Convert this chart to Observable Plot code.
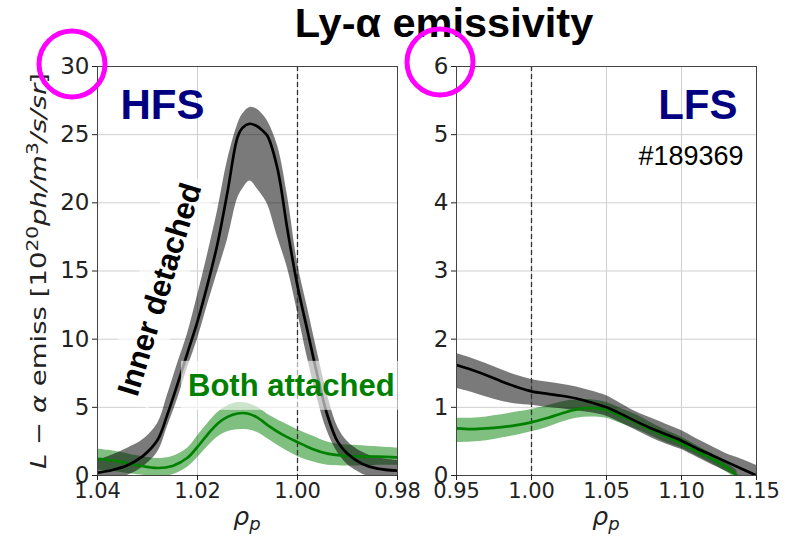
<!DOCTYPE html>
<html>
<head>
<meta charset="utf-8">
<script src="https://cdn.jsdelivr.net/npm/d3@7"></script>
<script src="https://cdn.jsdelivr.net/npm/@observablehq/plot@0.6"></script>
<style>
  html, body { margin: 0; padding: 0; background: white; }
  #wrap { position: relative; width: 792px; height: 536px; overflow: hidden; background: white; }
  #wrap > svg { position: absolute; top: 0; }
</style>
</head>
<body>
<div id="wrap"></div>
<script>
// ---------------- data ----------------
const titleText = "Ly-α emissivity";
const hfsLabel = "HFS";
const lfsLabel = "LFS";
const shotLabel = "#189369";
const detachedLabel = "Inner detached";
const attachedLabel = "Both attached";

// HFS (left panel), rho_p from 1.04 down to 0.98
const hfsTicksX = [1.04, 1.02, 1.00, 0.98];
const hfsTicksY = [0, 5, 10, 15, 20, 25, 30];
const hfsDetRho  = [1.040,1.037,1.034,1.031,1.028,1.026,1.024,1.022,1.020,1.018,1.016,1.014,1.012,1.011,1.0095,1.008,1.007,1.006,1.004,1.002,1.000,0.998,0.996,0.994,0.992,0.990,0.987,0.984,0.980];
const hfsDetMean = [0.2,0.4,0.75,1.4,2.6,4.5,6.7,9.0,11.3,14.0,17.0,20.8,24.8,25.5,25.8,25.6,25.3,24.9,22.5,18.0,13.9,10.6,7.3,4.4,2.5,1.6,0.85,0.5,0.35];
const hfsDetLo   = [-0.6,-0.3,0.0,0.6,1.7,3.6,5.6,7.9,10.0,12.5,14.9,17.3,20.3,21.0,21.6,21.0,20.5,19.9,17.5,15.2,12.0,8.6,5.6,3.2,1.7,0.8,0.1,-0.2,-0.3];
const hfsDetHi   = [1.1,1.5,2.0,2.6,3.8,5.9,8.2,10.4,13.2,16.2,19.4,23.1,25.7,26.5,27.0,26.85,26.5,26.0,24.2,20.5,15.6,12.3,9.0,5.9,3.6,2.5,1.7,1.3,1.1];

const hfsAttRho  = [1.040,1.036,1.032,1.028,1.025,1.022,1.020,1.018,1.016,1.014,1.012,1.010,1.008,1.006,1.003,1.000,0.997,0.994,0.991,0.988,0.984,0.980];
const hfsAttMean = [1.22,1.05,0.75,0.55,0.7,1.3,2.1,3.0,3.8,4.3,4.55,4.55,4.25,3.7,3.0,2.45,1.95,1.6,1.45,1.4,1.38,1.33];
const hfsAttLo   = [0.4,0.25,0.05,-0.05,0.05,0.6,1.3,2.1,2.8,3.2,3.35,3.35,3.15,2.7,2.0,1.4,1.0,0.75,0.7,0.7,0.75,0.75];
const hfsAttHi   = [1.95,1.75,1.45,1.25,1.4,2.0,2.9,3.8,4.6,5.1,5.35,5.3,5.0,4.5,3.9,3.35,2.9,2.45,2.25,2.2,2.1,2.0];

// LFS (right panel), rho_p from 0.95 to 1.15
const lfsTicksX = [0.95, 1.00, 1.05, 1.10, 1.15];
const lfsTicksY = [0, 1, 2, 3, 4, 5, 6];
const lfsDetRho  = [0.95,0.96,0.97,0.98,0.99,1.00,1.01,1.02,1.03,1.04,1.05,1.06,1.07,1.08,1.09,1.10,1.11,1.12,1.13,1.14,1.15];
const lfsDetMean = [1.62,1.55,1.47,1.38,1.30,1.235,1.20,1.17,1.13,1.07,1.00,0.90,0.79,0.69,0.60,0.51,0.40,0.30,0.20,0.10,0.0];
const lfsDetLo   = [1.28,1.22,1.15,1.09,1.05,1.03,1.00,0.98,0.95,0.92,0.87,0.77,0.66,0.55,0.46,0.38,0.27,0.16,0.06,-0.04,-0.1];
const lfsDetHi   = [1.79,1.72,1.64,1.55,1.47,1.41,1.37,1.34,1.30,1.24,1.17,1.05,0.93,0.84,0.75,0.66,0.54,0.43,0.32,0.24,0.15];

const lfsAttRho  = [0.95,0.96,0.97,0.98,0.99,1.00,1.01,1.02,1.03,1.04,1.05,1.06,1.07,1.08,1.09,1.10,1.11,1.12,1.13,1.137];
const lfsAttMean = [0.69,0.68,0.69,0.71,0.74,0.78,0.84,0.91,0.97,0.99,0.96,0.87,0.78,0.67,0.57,0.47,0.36,0.25,0.12,0.0];
const lfsAttLo   = [0.48,0.49,0.51,0.55,0.59,0.64,0.70,0.78,0.84,0.86,0.84,0.76,0.68,0.58,0.48,0.40,0.29,0.18,0.05,-0.06];
const lfsAttHi   = [0.84,0.84,0.86,0.89,0.93,0.97,1.02,1.08,1.11,1.11,1.07,0.98,0.89,0.77,0.66,0.56,0.44,0.32,0.19,0.07];

const separatrix = [1.00];

// ---------------- helpers ----------------
const table = (rho, mean, lo, hi) => rho.map((r, i) => ({rho: r, mean: mean[i], lo: lo[i], hi: hi[i]}));
const hfsDet = table(hfsDetRho, hfsDetMean, hfsDetLo, hfsDetHi);
const hfsAtt = table(hfsAttRho, hfsAttMean, hfsAttLo, hfsAttHi);
const lfsDet = table(lfsDetRho, lfsDetMean, lfsDetLo, lfsDetHi);
const lfsAtt = table(lfsAttRho, lfsAttMean, lfsAttLo, lfsAttHi);

const GREEN = "#008000";
const ARIAL = "'Liberation Sans', Arial, sans-serif";
const CURVE = "catmull-rom";
const style = {fontFamily: "'DejaVu Sans', sans-serif", fontSize: "21px", color: "#222", background: "transparent", overflow: "visible"};

function dataMarks(det, att, ticksX, ticksY, xfmt) {
  return [
    Plot.gridX(ticksX, {stroke: "#cfcfcf", strokeOpacity: 1, strokeWidth: 1}),
    Plot.gridY(ticksY, {stroke: "#cfcfcf", strokeOpacity: 1, strokeWidth: 1}),
    Plot.areaY(att, {x: "rho", y1: "lo", y2: "hi", fill: GREEN, fillOpacity: 0.5, curve: CURVE, clip: true}),
    Plot.areaY(det, {x: "rho", y1: "lo", y2: "hi", fill: "black", fillOpacity: 0.52, curve: CURVE, clip: true}),
    Plot.ruleX(separatrix, {stroke: "#333", strokeWidth: 1.3, strokeDasharray: "5,3"}),
    Plot.line(att, {x: "rho", y: "mean", stroke: GREEN, strokeWidth: 2.7, curve: CURVE, clip: true}),
    Plot.line(det, {x: "rho", y: "mean", stroke: "black", strokeWidth: 2.7, curve: CURVE, clip: true}),
    Plot.frame({stroke: "#444", strokeWidth: 1}),
    Plot.axisX(ticksX, {tickFormat: xfmt, tickSize: 5, tickPadding: 3, fontSize: 21, label: null}),
    Plot.axisY(ticksY, {tickFormat: d => String(d), tickSize: 5, tickPadding: 3, fontSize: 23, label: null})
  ];
}

// ---------------- left panel (HFS) ----------------
const left = Plot.plot({
  width: 400, height: 536,
  marginLeft: 97, marginRight: 3, marginTop: 66, marginBottom: 61,
  x: {domain: [1.04, 0.98]},
  y: {domain: [0, 30]},
  style,
  marks: [
    ...dataMarks(hfsDet, hfsAtt, hfsTicksX, hfsTicksY, d3.format(".2f")),
    Plot.text([hfsLabel], {text: d => d, frameAnchor: "top-left", dx: 23, dy: 23, textAnchor: "start", lineAnchor: "top",
      fontSize: 42, fontWeight: "bold", fontFamily: ARIAL, fill: "#000080"}),
    Plot.text([detachedLabel], {text: d => d, x: () => 1.0275, y: () => 13.65, rotate: -73, textAnchor: "middle", lineAnchor: "middle",
      fontSize: 31, fontWeight: "bold", fontFamily: ARIAL, fill: "black"}),
    Plot.text([attachedLabel], {text: d => d, x: () => 1.0219, y: () => 6.57, textAnchor: "start", lineAnchor: "middle",
      fontSize: 31, fontWeight: "bold", fontFamily: ARIAL, fill: GREEN})
  ]
});
left.style.left = "0px";

// ---------------- right panel (LFS) ----------------
const right = Plot.plot({
  width: 392, height: 536,
  marginLeft: 56, marginRight: 36, marginTop: 66, marginBottom: 61,
  x: {domain: [0.95, 1.15]},
  y: {domain: [0, 6]},
  style,
  marks: [
    ...dataMarks(lfsDet, lfsAtt, lfsTicksX, lfsTicksY, d3.format(".2f")),
    Plot.text([lfsLabel], {text: d => d, frameAnchor: "top-right", dx: -19, dy: 23, textAnchor: "end", lineAnchor: "top",
      fontSize: 42, fontWeight: "bold", fontFamily: ARIAL, fill: "#000080"}),
    Plot.text([shotLabel], {text: d => d, frameAnchor: "top-right", dx: -13, dy: 79, textAnchor: "end", lineAnchor: "top",
      fontSize: 27, fontFamily: ARIAL, fill: "black"})
  ]
});
right.style.left = "400px";

const wrap = document.getElementById("wrap");
wrap.appendChild(left);
wrap.appendChild(right);

// semi-transparent white boxes behind the two curve annotations
for (const t of left.querySelectorAll("text")) {
  if (t.textContent === detachedLabel || t.textContent === attachedLabel) {
    const bb = t.getBBox();
    const pad = 7;
    const r = document.createElementNS("http://www.w3.org/2000/svg", "rect");
    r.setAttribute("x", bb.x - pad);
    r.setAttribute("y", bb.y - pad);
    r.setAttribute("width", bb.width + 2 * pad);
    r.setAttribute("height", bb.height + 2 * pad);
    r.setAttribute("fill", "white");
    r.setAttribute("fill-opacity", "0.6");
    if (t.getAttribute("transform")) r.setAttribute("transform", t.getAttribute("transform"));
    t.parentNode.insertBefore(r, t);
  }
}

// ---------------- overlay: title, axis labels, highlight circles ----------------
const ns = "http://www.w3.org/2000/svg";
const overlay = document.createElementNS(ns, "svg");
overlay.setAttribute("width", 792);
overlay.setAttribute("height", 536);
overlay.style.left = "0px";
overlay.style.pointerEvents = "none";
overlay.innerHTML = `
  <text x="444" y="37" text-anchor="middle" font-family="'Liberation Sans', Arial, sans-serif" font-weight="bold" font-size="41.5" fill="black">${titleText}</text>
  <text transform="translate(46,271) rotate(-90)" text-anchor="middle" textLength="396" lengthAdjust="spacingAndGlyphs" font-family="'DejaVu Sans', sans-serif" font-size="22" fill="#222"><tspan font-style="italic">L</tspan> − <tspan font-style="italic">α</tspan> emiss [10<tspan font-size="16" dy="-8">20</tspan><tspan font-style="italic" dy="8">ph/m</tspan><tspan font-size="16" dy="-8">3</tspan><tspan font-style="italic" dy="8">/s/sr</tspan>]</text>
  <text x="247" y="525" text-anchor="middle" font-family="'DejaVu Sans', sans-serif" font-size="25" fill="#222"><tspan font-style="italic">ρ</tspan><tspan font-style="italic" font-size="18" dy="5">p</tspan></text>
  <text x="606" y="525" text-anchor="middle" font-family="'DejaVu Sans', sans-serif" font-size="25" fill="#222"><tspan font-style="italic">ρ</tspan><tspan font-style="italic" font-size="18" dy="5">p</tspan></text>
  <circle cx="72" cy="64" r="33" fill="none" stroke="#ff00ff" stroke-width="5"/>
  <circle cx="440" cy="62" r="33" fill="none" stroke="#ff00ff" stroke-width="5"/>
`;
wrap.appendChild(overlay);
</script>
</body>
</html>
